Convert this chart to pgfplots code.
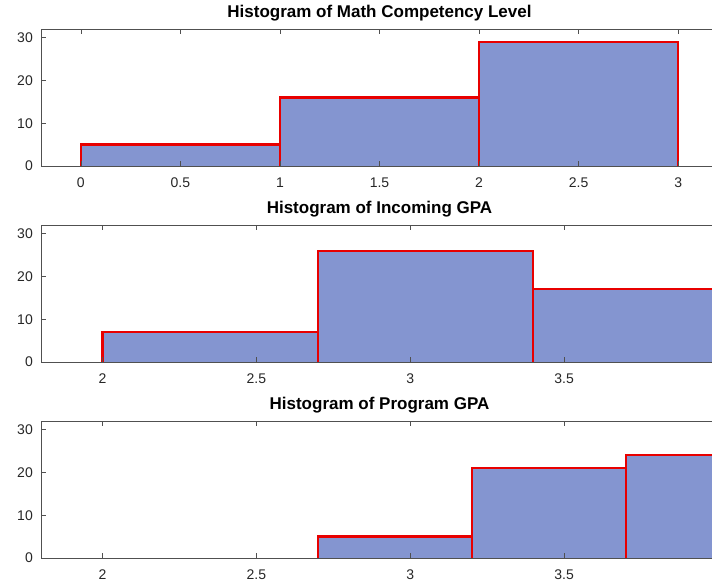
\documentclass[border=0pt]{standalone}
\usepackage{fontspec}
\setmainfont{Liberation Sans}
\usepackage{pgfplots}
\pgfplotsset{compat=1.18}
\definecolor{barfill}{RGB}{132,149,208}
\definecolor{baredge}{RGB}{232,0,0}
\definecolor{axgray}{RGB}{80,80,80}
\pgfplotsset{histo/.style={
  scale only axis, width=677pt, height=137pt, anchor=south west,
  ymin=0, ymax=32, ytick={0,10,20,30},
  tick align=inside, tick pos=both, major tick length=5pt,
  axis line style={axgray, line width=0.8pt},
  every tick/.style={axgray, line width=0.6pt},
  tick label style={font=\fontsize{14}{16}\selectfont, text=black!85},
  /pgf/number format/assume math mode=true,
  xticklabel style={anchor=center, yshift=-17pt},
  yticklabel style={anchor=east, inner sep=0pt, xshift=-8pt},
  title style={font=\bfseries\fontsize{17}{20}\selectfont, at={(0.5,1)}, anchor=base, yshift=6pt},
  axis on top, clip=true,
}}
\begin{document}
\begin{tikzpicture}
\begin{axis}[histo, at={(41pt,416pt)}, xmin=-0.2, xmax=3.2,
  xtick={0,0.5,1,1.5,2,2.5,3},
  title={Histogram of Math Competency Level}]
\addplot[ybar interval, fill=barfill, draw=none] coordinates {(0,5) (1,16) (2,29) (3,29)};
\addplot[baredge, line width=2.2pt, line join=miter] coordinates {(0,0) (0,5) (1,5) (1,0) (1,16) (2,16) (2,0) (2,29) (3,29) (3,0)};
\end{axis}
\begin{axis}[histo, at={(41pt,220pt)}, xmin=1.8, xmax=4.0,
  xtick={2,2.5,3,3.5},
  title={Histogram of Incoming GPA}]
\addplot[ybar interval, fill=barfill, draw=none] coordinates {(2,7) (2.7,26) (3.4,17) (4.1,17)};
\addplot[baredge, line width=2.2pt, line join=miter] coordinates {(2,0) (2,7) (2.7,7) (2.7,0) (2.7,26) (3.4,26) (3.4,0) (3.4,17) (4.1,17) (4.1,0)};
\end{axis}
\begin{axis}[histo, at={(41pt,24pt)}, xmin=1.8, xmax=4.0,
  xtick={2,2.5,3,3.5},
  title={Histogram of Program GPA}]
\addplot[ybar interval, fill=barfill, draw=none] coordinates {(2.7,5) (3.2,21) (3.7,24) (4.2,24)};
\addplot[baredge, line width=2.2pt, line join=miter] coordinates {(2.7,0) (2.7,5) (3.2,5) (3.2,0) (3.2,21) (3.7,21) (3.7,0) (3.7,24) (4.2,24) (4.2,0)};
\end{axis}
\pgfresetboundingbox
\useasboundingbox (0,0) rectangle (712pt,582pt);
\end{tikzpicture}
\end{document}
